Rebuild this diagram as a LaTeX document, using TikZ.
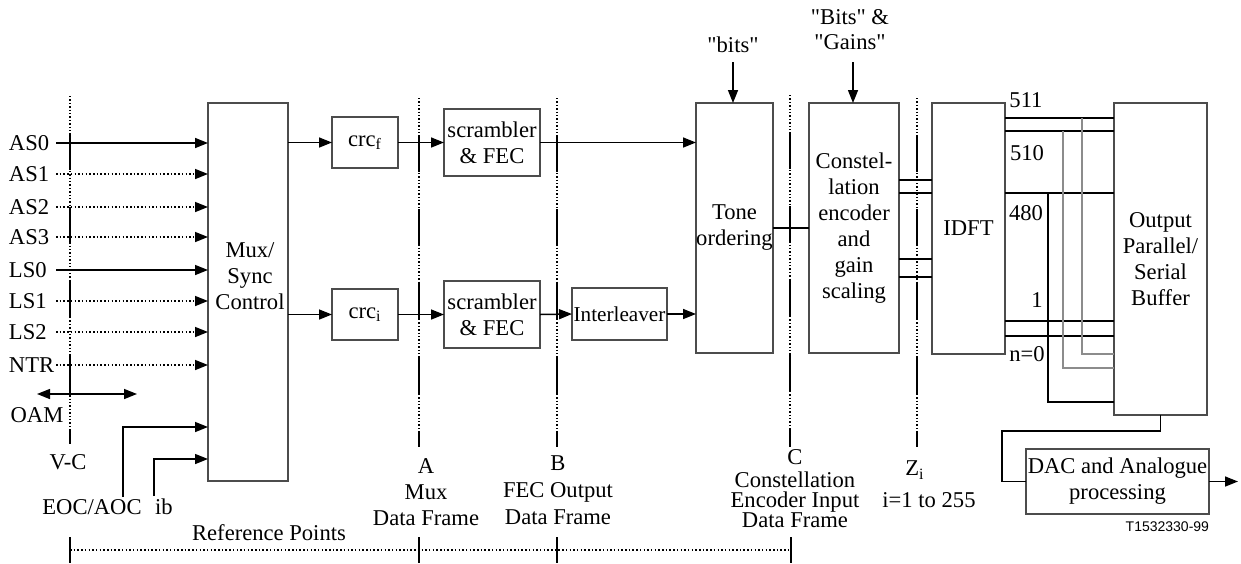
\documentclass[tikz,border=0pt]{standalone}
\usepackage{fontspec}
\setmainfont{Liberation Serif}
\newfontfamily\plainserif{Liberation Serif}
\newfontfamily\tagfont{Liberation Sans}
\usetikzlibrary{arrows.meta,calc}
\newcommand\refln[2]{%
  \draw[line width=0.7pt, dash pattern=on 0.7pt off 1pt] (#1) -- (#2);
  \draw[line width=0.75pt, dash pattern=on 18.5pt off 18.5pt, dash phase=18.5pt] (#1) -- (#2);}
\begin{document}
\begin{tikzpicture}[x=0.5pt,y=-0.5pt,
  font=\fontsize{11.3}{13}\selectfont,
  box/.style={draw=black!70, line width=0.75pt, inner sep=0pt, outer sep=0pt, align=center},
  txt/.style={inner sep=0pt, outer sep=0pt, align=center},
  conn/.style={line width=0.75pt},
  arr/.style={conn, -{Triangle[length=6.5pt,width=5pt]}},
  dbl/.style={conn, {Triangle[length=6.5pt,width=5pt]}-{Triangle[length=6.5pt,width=5pt]}},
  dots/.style={dash pattern=on 0.75pt off 1.1pt},
  gline/.style={conn, draw=black!45}]
\fill[white] (0,0) rectangle (1241,563);
\useasboundingbox (0,0) rectangle (1241,563);

% boxes
\node[box, minimum width=40pt, minimum height=189pt] (mux) at (248,292) {};
\node[txt] (muxt) at (250,276) {Mux/\\Sync\\Control};
\node[box, minimum width=33pt, minimum height=25.5pt] (crcf) at (365,142.5) {crc\textsubscript{f}};
\node[box, minimum width=33pt, minimum height=25.5pt] (crci) at (365,314.5) {crc\textsubscript{i}};
\node[box, minimum width=48pt, minimum height=33.5pt] (scr1) at (492,142.5) {scrambler\\\& FEC};
\node[box, minimum width=48pt, minimum height=33.5pt] (scr2) at (492,314.5) {scrambler\\\& FEC};
\node[box, minimum width=47.5pt, minimum height=26pt, font=\fontsize{10.6}{13}\selectfont] (intl) at (619.5,314) {Interleaver};
\node[box, minimum width=38.5pt, minimum height=125pt] (tone) at (734.5,228) {Tone\\ordering};
\node[box, minimum width=45pt, minimum height=125pt] (const) at (854,228) {Constel-\\lation\\encoder\\and\\gain\\scaling};
\node[box, minimum width=36.5pt, minimum height=125.5pt] (idft) at (968.5,228.5) {IDFT};
\node[box, minimum width=46.5pt, minimum height=156pt] (outb) at (1160.5,259) {Output\\Parallel/\\Serial\\Buffer};
\node[box, minimum width=91.5pt, minimum height=32.5pt] (dac) at (1117.5,481.5) {DAC and Analogue\\processing};

% reference lines
\coordinate (vct) at (70,96);  \coordinate (vcb) at (70,443);
\coordinate (at) at (419,98);  \coordinate (ab) at (419,447);
\coordinate (bt) at (557,98);  \coordinate (bb) at (557,447);
\coordinate (ct) at (790,95);  \coordinate (cb) at (790,447);
\coordinate (zt) at (917,98);  \coordinate (zb) at (917,447);
\refln{vct}{vcb}
\refln{at}{ab}
\refln{bt}{bb}
\refln{ct}{cb}
\refln{zt}{zb}

% inputs
\coordinate (instart) at (56,0);
\foreach \n/\t/\y/\s in {as0/AS0/143/solid, as1/AS1/174/dots, as2/AS2/207/dots, as3/AS3/237/dots,
                         ls0/LS0/270/solid, ls1/LS1/301/dots, ls2/LS2/332/dots, ntr/NTR/365/dots}{
  \node[txt, anchor=west] (\n) at (9,\y) {\t};
  \draw[arr,\s] (instart |- \n) -- (\n -| mux.west);
}
\coordinate (oaml) at (37,394); \coordinate (oamr) at (137,394);
\draw[dbl] (oaml) -- (oamr);
\node[txt] (oam) at (37,415) {OAM};
\node[txt] (vc) at (68,462) {V-C};
\node[txt] (eoc) at (92,507) {EOC/AOC};
\node[txt] (ib) at (164,507) {ib};
\coordinate (eocb) at (123,497); \coordinate (eoct) at (123,427);
\coordinate (ibb) at (154,496);  \coordinate (ibt) at (154,459);
\draw[arr] (eocb) -- (eoct) -- (eoct -| mux.west);
\draw[arr] (ibb) -- (ibt) -- (ibt -| mux.west);

% upper and lower paths
\draw[arr] (mux.east |- crcf) -- (crcf.west);
\draw[arr] (crcf.east) -- (scr1.west);
\draw[arr] (scr1.east) -- (scr1.east -| tone.west);
\draw[arr] (mux.east |- crci) -- (crci.west);
\draw[arr] (crci.east) -- (scr2.west);
\draw[arr] (scr2.east) -- (intl.west);
\draw[arr] (intl.east) -- (intl.east -| tone.west);
\draw[conn] (tone.east) -- (tone.east -| const.west);

% top inputs
\node[txt, font=\plainserif\fontsize{11.3}{13}\selectfont] (bits) at (733,45) {"bits"};
\coordinate (bitsa) at (733,62);
\draw[arr] (bitsa) -- (bitsa |- tone.north);
\node[txt, font=\plainserif\fontsize{11.3}{12.5}\selectfont] (bg) at (850,30) {"Bits" \&\\"Gains"};
\coordinate (bga) at (853,62);
\draw[arr] (bga) -- (bga |- const.north);

% constellation -> IDFT
\foreach \yy in {180,193,259,277}{
  \coordinate (cl) at (0,\yy);
  \draw[conn] (const.east |- cl) -- (idft.west |- cl);
}

% IDFT -> output buffer
\foreach \yy in {118,131,193,321,336}{
  \coordinate (rl) at (0,\yy);
  \draw[conn] (idft.east |- rl) -- (outb.west |- rl);
}
\coordinate (v1t) at (1048,193); \coordinate (v1b) at (1048,402);
\coordinate (v2t) at (1063,131); \coordinate (v2b) at (1063,368);
\coordinate (v3t) at (1082,118); \coordinate (v3b) at (1082,354);
\draw[gline] (v3t) -- (v3b) -- (v3b -| outb.west);
\draw[gline] (v2t) -- (v2b) -- (v2b -| outb.west);
\draw[conn] (v1t) -- (v1b) -- (v1b -| outb.west);
\node[txt] (n511) at (1026,100) {511};
\node[txt] (n510) at (1027,153) {510};
\node[txt] (n480) at (1026,213) {480};
\node[txt] (n1) at (1037,300) {1};
\node[txt] (n0) at (1027,354) {n=0};

% output buffer -> DAC
\coordinate (dk) at (1002,431);
\draw[conn] (outb.south) |- (dk) |- (dac.west);
\coordinate (dout) at (1238,481.5);
\draw[arr] (dac.east) -- (dout);
\node[txt, anchor=east, font=\tagfont\fontsize{7}{8}\selectfont] (tag) at (1209,527) {T1532330-99};

% reference point labels
\node[txt, font=\fontsize{11.3}{13}\selectfont] (la) at (426,492) {A\\Mux\\Data Frame};
\node[txt, font=\fontsize{11.3}{13.5}\selectfont] (lb) at (558,490) {B\\FEC Output\\Data Frame};
\node[txt, font=\fontsize{11.3}{10}\selectfont] (lc) at (795,489) {C\\[1.5pt]Constellation\\Encoder Input\\Data Frame};
\node[txt] (lz) at (915,470) {Z\textsubscript{i}};
\node[txt] (lzr) at (929,500) {i=1 to 255};
\node[txt] (refp) at (269,533) {Reference Points};

% bottom reference bar
\coordinate (rpl) at (70,550); \coordinate (rpr) at (791,550);
\draw[conn, line width=0.7pt, dots] (rpl) -- (rpr);
\foreach \xx in {70,419,557,791}{
  \coordinate (tk) at (\xx,537);
  \draw[conn] (tk) -- ++(0,26);
}
\end{tikzpicture}
\end{document}
